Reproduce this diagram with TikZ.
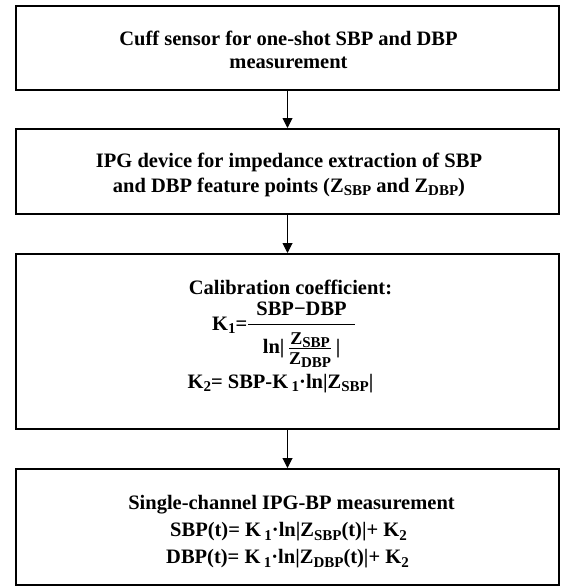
\documentclass[tikz,border=0pt]{standalone}
\usepackage{fontspec}
\usepackage{amsmath}
\setmainfont{Liberation Serif}
\usetikzlibrary{arrows.meta}
% lowered, smaller subscript in the bold serif text font
\newcommand\lo[1]{\raisebox{-3.5pt}{\fontsize{15}{15}\selectfont #1}}
% impedance symbol used inside the log ratio
\newcommand\smallz[1]{\mbox{\fontsize{18}{18}\selectfont\bfseries Z\raisebox{-2.5pt}{\fontsize{15}{15}\selectfont #1}}}
\begin{document}
\begin{tikzpicture}[x=1pt,y=1pt,
  flowbox/.style={draw, line width=2pt, minimum width=543pt, inner sep=0pt},
  txt/.style={inner sep=0pt, anchor=base, font=\fontsize{20.5}{23}\selectfont\bfseries},
  flowarrow/.style={line width=1pt, -{Triangle[width=10pt,length=10pt]}}]
\useasboundingbox (0,0) rectangle (561,-586);
% boxes
\node[flowbox, minimum height=84pt] (cuff) at (287.5,-48) {};
\node[flowbox, minimum height=85pt] (ipg) at (287.5,-171.5) {};
\node[flowbox, minimum height=175pt] (calib) at (287.5,-341.5) {};
\node[flowbox, minimum height=116pt] (meas) at (287.5,-527) {};
% box texts
\node[txt] (cuffA) at (288.5,-45.7) {Cuff sensor for one-shot SBP and DBP};
\node[txt] (cuffB) at (288.5,-69) {measurement};
\node[txt] (ipgA) at (289,-167) {IPG device for impedance extraction of SBP};
\node[txt] (ipgB) at (289,-192) {and DBP feature points (Z\lo{SBP} and Z\lo{DBP})};
\node[txt] (calA) at (290.5,-294) {Calibration coefficient:};
\node[txt] (calB) at (284,-330)
  {$\text{K\lo{1}=}\dfrac{\hspace{8pt}\text{SBP−DBP}\hspace{8pt}}%
   {\rule{0pt}{26pt}\text{ln|}\,\genfrac{}{}{0.8pt}{1}{\smallz{SBP}}{\rule{0pt}{15pt}\smallz{DBP}}\,\text{|}}$};
\node[txt] (calC) at (280.5,-388) {K\lo{2}= SBP-K\,\lo{1}·ln|Z\lo{SBP}|};
\node[txt] (measA) at (291.5,-509.5) {Single-channel IPG-BP measurement};
\node[txt] (measB) at (288.5,-536.5) {SBP(t)= K\,\lo{1}·ln|Z\lo{SBP}(t)|+ K\lo{2}};
\node[txt] (measC) at (287.5,-563.5) {DBP(t)= K\,\lo{1}·ln|Z\lo{DBP}(t)|+ K\lo{2}};
% connectors
\draw[flowarrow] (cuff.south) -- (ipg.north);
\draw[flowarrow] (ipg.south) -- (calib.north);
\draw[flowarrow] (calib.south) -- (meas.north);
\end{tikzpicture}
\end{document}
